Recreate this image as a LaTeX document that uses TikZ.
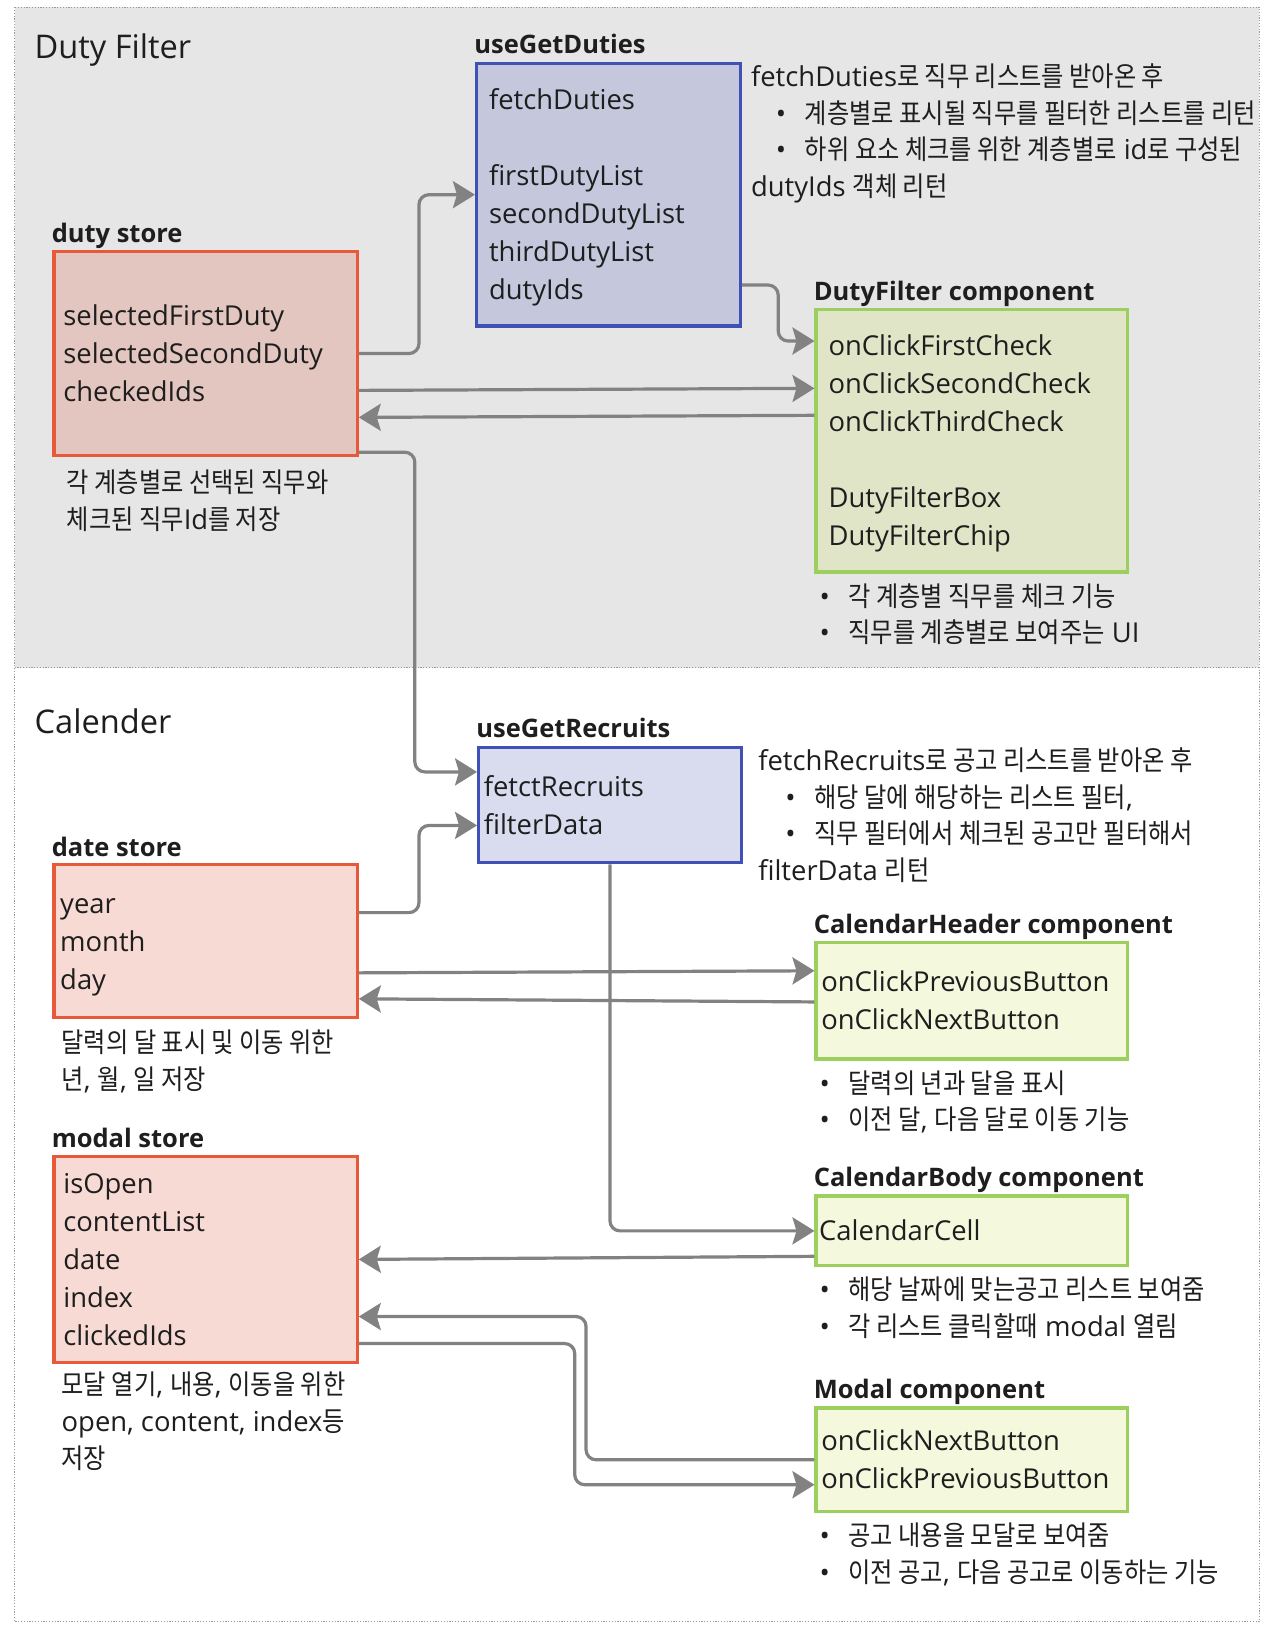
\documentclass[tikz,border=0pt]{standalone}
\usepackage{fontspec}
\setmainfont{Open Sans}
\newfontfamily\kr[FakeStretch=0.885]{Noto Sans CJK KR}
\usetikzlibrary{calc,arrows.meta,positioning}
\newlength{\pxl}
\setlength{\pxl}{0.5192pt}
\def\ko#1{{\kr #1}}
\def\itm#1#2{\hspace*{#1\pxl}\textbullet\hspace*{18\pxl}#2}
\def\bst{\rule[-4.46pt]{0pt}{19pt}}
\def\bodyfont{\fontsize{13.7}{19}\selectfont}
\def\notefont{\fontsize{13.7}{18.3}\selectfont}
\definecolor{secgray}{HTML}{E6E6E6}
\definecolor{framegray}{HTML}{9A9A9A}
\definecolor{hookblue}{HTML}{3F51B5}
\definecolor{hookfill}{HTML}{C5C8DD}
\definecolor{hookfilllt}{HTML}{D9DCEF}
\definecolor{storered}{HTML}{E8593A}
\definecolor{storefill}{HTML}{E4C6C0}
\definecolor{storefilllt}{HTML}{F8DAD5}
\definecolor{compgreen}{HTML}{9CCF5E}
\definecolor{compfill}{HTML}{E1E5C7}
\definecolor{compfilllt}{HTML}{F4F8DD}
\definecolor{flowgray}{HTML}{828282}
\definecolor{ink}{HTML}{1E1E1E}

\begin{document}
\begin{tikzpicture}[x=0.5192pt, y=-0.5192pt,
	box/.style={draw, line width=1.6pt, rectangle, align=left, inner ysep=0pt, text=ink, font=\bodyfont},
	hook/.style={box, draw=hookblue},
	store/.style={box, draw=storered},
	comp/.style={box, draw=compgreen},
	note/.style={align=left, inner sep=0pt, text=ink, font=\notefont},
	lbl/.style={inner sep=0pt, text=ink, font=\fontsize{12.75}{15}\selectfont\bfseries},
	title/.style={inner sep=0pt, text=ink, font=\fontsize{16.3}{19}\selectfont},
	flow/.style={draw=flowgray, line width=1.6pt, rounded corners=5pt, -{Stealth[length=11pt, width=13.5pt, inset=2pt]}}]
		%%%%% FRAME %%%%%
		\fill[white] (0,0) rectangle (1225,1568);
		\useasboundingbox (0,0) rectangle (1225,1568);
		\fill[secgray] (14,7) rectangle (1213,643);
		\draw[framegray, line width=0.7pt, dash pattern=on 0.6pt off 0.8pt] (14,7) rectangle (1213,1562);
		\draw[framegray, line width=0.7pt, dash pattern=on 0.6pt off 0.8pt] (14,643) -- (1213,643);
		
		\node[title, anchor=base west] (dutytitle) at (33,56) {Duty Filter};
		\node[title, anchor=base west] (caltitle) at (33,706) {Calender};
		
		%%%%% DUTY FILTER %%%%%
		\node[hook, fill=hookfill, minimum width=254\pxl, minimum height=253\pxl, text width=230\pxl, inner xsep=12\pxl] (dutyhook) at (586,187.5)
			{\bst fetchDuties\\[19pt]firstDutyList\\secondDutyList\\thirdDutyList\\dutyIds\bst};
		\node[store, fill=storefill, minimum width=292\pxl, minimum height=197\pxl, text width=274\pxl, inner xsep=9\pxl] (dutystore) at (198,340.5)
			{\bst selectedFirstDuty\\selectedSecondDuty\\checkedIds\bst};
		\node[comp, fill=compfill, minimum width=300\pxl, minimum height=253\pxl, text width=276\pxl, inner xsep=12\pxl] (dutyfilter) at (936,424.5)
			{\bst onClickFirstCheck\\onClickSecondCheck\\onClickThirdCheck\\[19pt]DutyFilterBox\\DutyFilterChip\bst};
		
		\node[lbl, anchor=base west] (dutyhooklbl) at ($(dutyhook.north west)+(-1,-8)$) {useGetDuties};
		\node[lbl, anchor=base west] (dutystorelbl) at ($(dutystore.north west)+(-1,-7)$) {duty store};
		\node[lbl, anchor=base west] (dutyfilterlbl) at ($(dutyfilter.north west)+(-1,-7)$) {DutyFilter component};
		
		\node[note, anchor=base west] (dutyhooknote) at (723,189)
			{fetchDuties\ko{로 직무 리스트를 받아온 후}\\
			\itm{24}{\ko{계층별로 표시될 직무를 필터한 리스트를 리턴}}\\
			\itm{24}{\ko{하위 요소 체크를 위한 계층별로} id\ko{로 구성된}}\\
			dutyIds \ko{객체 리턴}};
		\node[note, anchor=base west] (dutystorenote) at (64,510)
			{\ko{각 계층별로 선택된 직무와}\\\ko{체크된 직무}Id\ko{를 저장}};
		\node[note, anchor=base west] (dutyfilternote) at (789,619)
			{\itm{0}{\ko{각 계층별 직무를 체크 기능}}\\\itm{0}{\ko{직무를 계층별로 보여주는} UI}};
		
		\draw[flow] (dutystore.east) -- ++(58,0) |- (dutyhook.west);
		\draw[flow] ($(dutyhook.south east)+(0,-41)$) -- ++(35,0) |- ($(dutyfilter.north west)+(0,32)$);
		\draw[flow] ($(dutystore.east)+(0,35.5)$) -- ($(dutyfilter.west)+(0,-50.5)$);
		\draw[flow] ($(dutyfilter.west)+(0,-24.5)$) -- ($(dutystore.east)+(0,61.5)$);
		
		%%%%% CALENDER %%%%%
		\node[hook, fill=hookfilllt, minimum width=253\pxl, minimum height=111\pxl, text width=243\pxl, inner xsep=5\pxl] (recruithook) at (587.5,775.5)
			{\bst fetctRecruits\\filterData\bst};
		\node[store, fill=storefilllt, minimum width=292\pxl, minimum height=147\pxl, text width=280\pxl, inner xsep=6\pxl] (datestore) at (198,906.5)
			{\bst year\\month\\day\bst};
		\node[store, fill=storefilllt, minimum width=292\pxl, minimum height=198\pxl, text width=274\pxl, inner xsep=9\pxl] (modalstore) at (198,1213)
			{\bst isOpen\\contentList\\date\\index\\clickedIds\bst};
		\node[comp, fill=compfilllt, minimum width=300\pxl, minimum height=112\pxl, text width=290\pxl, inner xsep=5\pxl] (calheader) at (936,964)
			{\bst onClickPreviousButton\\onClickNextButton\bst};
		\node[comp, fill=compfilllt, minimum width=300\pxl, minimum height=67\pxl, text width=294\pxl, inner xsep=3\pxl] (calbody) at (936,1185.5)
			{\bst CalendarCell\bst};
		\node[comp, fill=compfilllt, minimum width=300\pxl, minimum height=100\pxl, text width=290\pxl, inner xsep=5\pxl] (modalcomp) at (936,1406)
			{\bst onClickNextButton\\onClickPreviousButton\bst};
		
		\node[lbl, anchor=base west] (recruithooklbl) at ($(recruithook.north west)+(-1,-8)$) {useGetRecruits};
		\node[lbl, anchor=base west] (datestorelbl) at ($(datestore.north west)+(-1,-7)$) {date store};
		\node[lbl, anchor=base west] (modalstorelbl) at ($(modalstore.north west)+(-1,-7)$) {modal store};
		\node[lbl, anchor=base west] (calheaderlbl) at ($(calheader.north west)+(-1,-7)$) {CalendarHeader component};
		\node[lbl, anchor=base west] (calbodylbl) at ($(calbody.north west)+(-1,-8)$) {CalendarBody component};
		\node[lbl, anchor=base west] (modalcomplbl) at ($(modalcomp.north west)+(-1,-8)$) {Modal component};
		
		\node[note, anchor=base west] (recruithooknote) at (730,848)
			{fetchRecruits\ko{로 공고 리스트를 받아온 후}\\
			\itm{26}{\ko{해당 달에 해당하는 리스트 필터},}\\
			\itm{26}{\ko{직무 필터에서 체크된 공고만 필터해서}}\\
			filterData \ko{리턴}};
		\node[note, anchor=base west] (datestorenote) at (59,1049)
			{\ko{달력의 달 표시 및 이동 위한}\\\ko{년}, \ko{월}, \ko{일 저장}};
		\node[note, anchor=base west] (modalstorenote) at (59,1414)
			{\ko{모달 열기}, \ko{내용}, \ko{이동을 위한}\\open, content, index\ko{등}\\\ko{저장}};
		\node[note, anchor=base west] (calheadernote) at (789,1088)
			{\itm{0}{\ko{달력의 년과 달을 표시}}\\\itm{0}{\ko{이전 달}, \ko{다음 달로 이동 기능}}};
		\node[note, anchor=base west] (calbodynote) at (789,1287)
			{\itm{0}{\ko{해당 날짜에 맞는공고 리스트 보여줌}}\\\itm{0}{\ko{각 리스트 클릭할때} modal \ko{열림}}};
		\node[note, anchor=base west] (modalcompnote) at (789,1524)
			{\itm{0}{\ko{공고 내용을 모달로 보여줌}}\\\itm{0}{\ko{이전 공고}, \ko{다음 공고로 이동하는 기능}}};
		
		\draw[flow] ($(dutystore.south east)+(0,-5)$) -- ++(54,0) |- ($(recruithook.north west)+(0,25)$);
		\draw[flow] ($(datestore.east)+(0,-27.5)$) -- ++(58,0) |- ($(recruithook.west)+(0,19.5)$);
		\draw[flow] ($(datestore.east)+(0,30.5)$) -- ($(calheader.west)+(0,-29)$);
		\draw[flow] ($(calheader.west)+(0,1)$) -- ($(datestore.east)+(0,55.5)$);
		\draw[flow] (recruithook.south) |- (calbody.west);
		\draw[flow] ($(calbody.west)+(0,24.5)$) -- (modalstore.east);
		\draw[flow] (modalcomp.west) -- ++(-220,0) |- ($(modalstore.east)+(0,55)$);
		\draw[flow] ($(modalstore.east)+(0,81)$) -- ++(208,0) |- ($(modalcomp.west)+(0,24)$);
		
		%%%%% END %%%%%
\end{tikzpicture}
\end{document}
